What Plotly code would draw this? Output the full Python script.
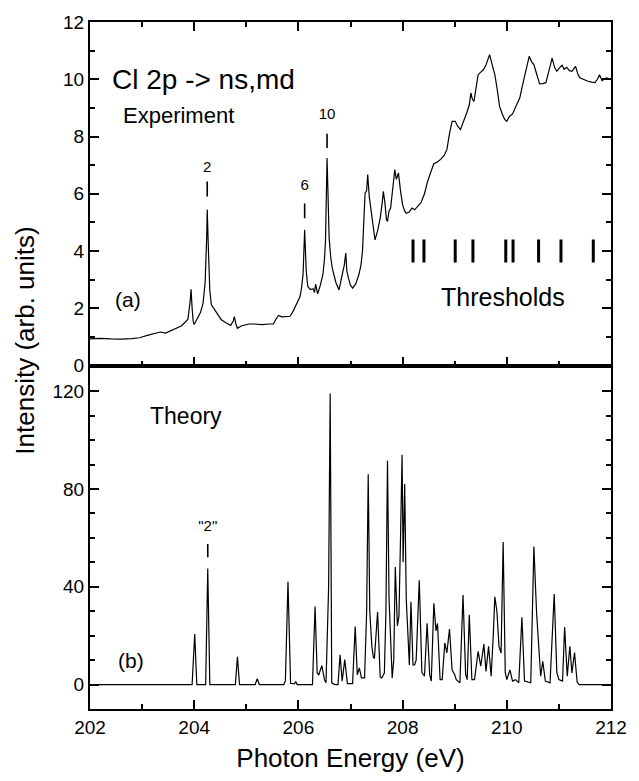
import plotly.graph_objects as go
from plotly.subplots import make_subplots

# ---------------- data ----------------
exp_x = [202.0, 202.2, 202.4, 202.6, 202.8, 202.95, 203.1, 203.25, 203.35, 203.45, 203.55, 203.65,
         203.75, 203.82, 203.88, 203.92, 203.94, 203.96, 203.98, 204.0, 204.05, 204.12, 204.17, 204.21,
         204.24, 204.25, 204.27, 204.3, 204.33, 204.42, 204.52, 204.6, 204.7, 204.75, 204.77, 204.8,
         204.83, 204.9, 204.96, 205.05, 205.14, 205.3, 205.45, 205.52, 205.58, 205.62, 205.68, 205.77,
         205.84, 205.9, 205.96, 206.03, 206.06, 206.09, 206.12, 206.15, 206.18, 206.23, 206.28, 206.31,
         206.33, 206.37, 206.42, 206.47, 206.5, 206.52, 206.55, 206.57, 206.59, 206.62, 206.65, 206.72,
         206.78, 206.84, 206.88, 206.91, 206.93, 206.96, 207.0, 207.04, 207.1, 207.16, 207.2, 207.23,
         207.26, 207.28, 207.31, 207.33, 207.36, 207.39, 207.43, 207.47, 207.52, 207.57, 207.61, 207.63,
         207.66, 207.69, 207.71, 207.74, 207.77, 207.8, 207.83, 207.85, 207.88, 207.92, 207.96, 208.0,
         208.04, 208.07, 208.12, 208.18, 208.23, 208.3, 208.35, 208.42, 208.48, 208.54, 208.6, 208.66,
         208.73, 208.8, 208.85, 208.9, 208.95, 209.01, 209.06, 209.11, 209.17, 209.23, 209.28, 209.31,
         209.34, 209.37, 209.41, 209.45, 209.5, 209.55, 209.6, 209.67, 209.72, 209.77, 209.82, 209.86,
         209.92, 209.96, 210.0, 210.05, 210.11, 210.18, 210.25, 210.29, 210.33, 210.38, 210.43, 210.48,
         210.52, 210.57, 210.63, 210.69, 210.75, 210.81, 210.87, 210.92, 210.96, 211.01, 211.06, 211.1,
         211.15, 211.2, 211.25, 211.32, 211.36, 211.4, 211.48, 211.56, 211.63, 211.69, 211.74, 211.78,
         211.83, 211.87, 211.92, 212.0]
exp_y = [0.93, 0.95, 0.93, 0.92, 0.94, 0.97, 1.05, 1.12, 1.17, 1.13, 1.22, 1.3,
         1.38, 1.5, 1.62, 2.2, 2.66, 2.0, 1.55, 1.43, 1.6, 1.85, 2.18, 2.9,
         4.5, 5.45, 4.2, 2.6, 2.12, 1.85, 1.6, 1.5, 1.4, 1.55, 1.71, 1.45,
         1.3, 1.38, 1.4, 1.45, 1.45, 1.43, 1.45, 1.45, 1.65, 1.75, 1.7, 1.71,
         1.72, 1.9, 2.12, 2.4, 2.7, 3.2, 4.74, 3.3, 2.76, 2.65, 2.68, 2.55,
         2.84, 2.5, 2.8, 3.17, 3.7, 4.34, 7.25, 5.6, 4.45, 3.8, 3.4, 2.9,
         2.64, 3.17, 3.5, 3.93, 3.3, 3.05, 2.8, 2.7, 2.85, 3.17, 3.5, 3.99,
         5.2, 6.03, 6.1, 6.67, 5.9, 5.5, 4.8, 4.39, 4.7, 5.15, 5.7, 6.08,
         5.7, 5.1, 5.03, 5.4, 5.5, 6.1, 6.7, 6.84, 6.5, 6.73, 6.1, 5.61,
         5.4, 5.32, 5.35, 5.5, 5.44, 5.6, 5.68, 6.0, 6.43, 6.75, 7.05, 7.1,
         7.2, 7.35, 7.54, 8.1, 8.53, 8.53, 8.35, 8.24, 8.5, 8.82, 9.1, 9.52,
         9.3, 9.23, 9.7, 10.16, 10.25, 10.33, 10.5, 10.86, 10.5, 10.16, 9.6, 9.06,
         8.75, 8.6, 8.53, 8.7, 8.79, 9.05, 9.35, 9.7, 10.05, 10.45, 10.8, 10.6,
         10.51, 10.2, 9.84, 9.85, 9.88, 10.3, 10.74, 10.4, 10.28, 10.4, 10.49, 10.35,
         10.42, 10.3, 10.28, 10.45, 10.2, 10.05, 9.98, 9.93, 9.9, 9.88, 10.0, 10.16,
         9.95, 10.02, 10.05, 9.98]

th_x = [202.0, 203.96, 204.01, 204.05, 204.22, 204.26, 204.3, 204.79, 204.83, 204.87,
        205.17, 205.21, 205.25, 205.72, 205.75, 205.8, 205.85, 205.92, 205.95, 205.98,
        206.27, 206.32, 206.36, 206.39, 206.45, 206.5, 206.53, 206.58, 206.61, 206.64,
        206.7, 206.76, 206.8, 206.84, 206.89, 206.94, 207.04, 207.09, 207.13, 207.17,
        207.21, 207.27, 207.31, 207.34, 207.37, 207.41, 207.44, 207.46, 207.52, 207.57,
        207.6, 207.65, 207.68, 207.71, 207.74, 207.77, 207.8, 207.83, 207.86, 207.9,
        207.93, 207.96, 207.99, 208.01, 208.04, 208.07, 208.1, 208.13, 208.16, 208.2,
        208.23, 208.26, 208.32, 208.37, 208.42, 208.47, 208.52, 208.55, 208.6, 208.64,
        208.67, 208.72, 208.76, 208.81, 208.85, 208.9, 208.95, 209.0, 209.03, 209.1,
        209.16, 209.21, 209.24, 209.28, 209.33, 209.38, 209.45, 209.5, 209.56, 209.6,
        209.65, 209.7, 209.74, 209.77, 209.81, 209.85, 209.89, 209.93, 209.97, 210.0,
        210.06, 210.11, 210.17, 210.23, 210.29, 210.34, 210.46, 210.52, 210.57, 210.6,
        210.65, 210.69, 210.74, 210.83, 210.91, 210.96, 211.0, 211.07, 211.11, 211.16,
        211.21, 211.25, 211.3, 211.35, 211.39, 212.0]
th_y = [0, 0, 20.7, 0, 0, 47.5, 0, 0, 11.3, 0,
        0, 2.4, 0, 0, 1.5, 42, 0.5, 0.3, 1.1, 0,
        0, 31.9, 4.7, 4, 7.7, 2, 0.7, 40, 119, 0.7,
        0, 0, 12.2, 1.4, 10.2, 0.4, 0.4, 23.7, 4, 6.8,
        2.7, 2.7, 30, 86, 30, 15.6, 11, 10.8, 29.8, 3,
        2.7, 4.7, 30, 91.5, 35, 19, 2.7, 10, 48.1, 24,
        28, 60, 94, 50, 82, 35, 18.3, 8, 33.9, 8,
        8, 10, 42.7, 5, 3.4, 25.1, 4, 1.4, 33.2, 22,
        25, 2, 2, 17, 13, 22.7, 6, 4, 2, 0.7,
        36.6, 4, 2, 28.5, 2, 2, 13.6, 7.5, 16.6, 5.4,
        15.6, 3.4, 20, 35.9, 30, 15.6, 12.9, 58.3, 5, 2,
        6, 1.4, 2, 0.7, 27.5, 1.4, 0.7, 56.5, 30, 19.7,
        3.4, 9.5, 1.4, 0.7, 37, 5, 2, 1.4, 23.5, 3.4,
        15.6, 4.7, 13.1, 1, 0, 0]

# peak markers (experiment): position, bar bottom, bar top, label, label height
exp_mark_x = [204.25, 206.12, 206.55]
exp_mark_lo = [5.9, 5.14, 7.6]
exp_mark_hi = [6.43, 5.66, 8.1]
exp_mark_lbl = ["2", "6", "10"]
exp_mark_lbl_y = [6.88, 6.26, 8.74]

# theory marker
th_mark_x = [204.26]
th_mark_lo = [52.1]
th_mark_hi = [57.5]
th_mark_lbl = ['"2"']
th_mark_lbl_y = [64.2]

# ionisation thresholds
thr_x = [208.2, 208.41, 209.01, 209.35, 209.98, 210.12, 210.61, 211.04, 211.66]
thr_lo = 3.6
thr_hi = 4.4

x_ticks = [202, 204, 206, 208, 210, 212]
top_y_ticks = [0, 2, 4, 6, 8, 10, 12]
bot_y_ticks = [0, 40, 80, 120]

FONT = "Liberation Sans, Arial, Helvetica, sans-serif"

fig = make_subplots(rows=2, cols=1, shared_xaxes=True, vertical_spacing=0)

fig.add_trace(go.Scatter(x=exp_x, y=exp_y, mode="lines",
                         line=dict(color="black", width=1.2), showlegend=False), row=1, col=1)
fig.add_trace(go.Scatter(x=th_x, y=th_y, mode="lines",
                         line=dict(color="black", width=1.2), showlegend=False), row=2, col=1)


def bars(xs, los, his):
    bx, by = [], []
    for x, lo, hi in zip(xs, los, his):
        bx += [x, x, None]
        by += [lo, hi, None]
    return bx, by


bx, by = bars(exp_mark_x, exp_mark_lo, exp_mark_hi)
fig.add_trace(go.Scatter(x=bx, y=by, mode="lines", line=dict(color="black", width=1.6),
                         showlegend=False), row=1, col=1)
bx, by = bars(thr_x, [thr_lo] * len(thr_x), [thr_hi] * len(thr_x))
fig.add_trace(go.Scatter(x=bx, y=by, mode="lines", line=dict(color="black", width=3),
                         showlegend=False), row=1, col=1)
bx, by = bars(th_mark_x, th_mark_lo, th_mark_hi)
fig.add_trace(go.Scatter(x=bx, y=by, mode="lines", line=dict(color="black", width=1.6),
                         showlegend=False), row=2, col=1)

fig.add_trace(go.Scatter(x=exp_mark_x, y=exp_mark_lbl_y, mode="text", text=exp_mark_lbl,
                         textfont=dict(size=15, color="black", family=FONT),
                         showlegend=False), row=1, col=1)
fig.add_trace(go.Scatter(x=th_mark_x, y=th_mark_lbl_y, mode="text", text=th_mark_lbl,
                         textfont=dict(size=15, color="black", family=FONT),
                         showlegend=False), row=2, col=1)

ann = [
    dict(text="Cl 2p -> ns,md", x=202.38, y=10.0, xref="x", yref="y", xanchor="left",
         yanchor="middle", font=dict(size=28, family=FONT, color="black"), showarrow=False),
    dict(text="Experiment", x=202.6, y=8.75, xref="x", yref="y", xanchor="left",
         yanchor="middle", font=dict(size=22, family=FONT, color="black"), showarrow=False),
    dict(text="(a)", x=202.45, y=2.3, xref="x", yref="y", xanchor="left",
         yanchor="middle", font=dict(size=21, family=FONT, color="black"), showarrow=False),
    dict(text="Thresholds", x=209.92, y=2.4, xref="x", yref="y", xanchor="center",
         yanchor="middle", font=dict(size=25, family=FONT, color="black"), showarrow=False),
    dict(text="Theory", x=203.12, y=110, xref="x2", yref="y2", xanchor="left",
         yanchor="middle", font=dict(size=23, family=FONT, color="black"), showarrow=False),
    dict(text="(b)", x=202.5, y=10, xref="x2", yref="y2", xanchor="left",
         yanchor="middle", font=dict(size=21, family=FONT, color="black"), showarrow=False),
    dict(text="Intensity (arb. units)", x=-0.125, y=0.536, xref="paper", yref="paper",
         xanchor="center", yanchor="middle", textangle=-90,
         font=dict(size=26, family=FONT, color="black"), showarrow=False),
]

axis_common = dict(showgrid=False, zeroline=False, showline=True, linecolor="black",
                   linewidth=2, ticks="inside", tickcolor="black", tickwidth=2,
                   ticklen=9, tickfont=dict(size=19, family=FONT, color="black"))

fig.update_xaxes(range=[202, 212], tickvals=x_ticks, mirror="ticks",
                 minor=dict(dtick=1, ticks="inside", ticklen=5, tickwidth=2, tickcolor="black"),
                 **axis_common, row=1, col=1)
fig.update_xaxes(range=[202, 212], tickvals=x_ticks, mirror=True, showticklabels=True,
                 minor=dict(dtick=1, ticks="inside", ticklen=5, tickwidth=2, tickcolor="black"),
                 title=dict(text="Photon Energy (eV)", font=dict(size=26, family=FONT, color="black"),
                            standoff=12),
                 **axis_common, row=2, col=1)
fig.update_yaxes(range=[0, 12], tickvals=top_y_ticks, mirror="ticks",
                 minor=dict(dtick=1, ticks="inside", ticklen=5, tickwidth=2, tickcolor="black"),
                 **axis_common, row=1, col=1)
fig.update_yaxes(range=[-10, 130.5], tickvals=bot_y_ticks, mirror="ticks",
                 minor=dict(tick0=0, dtick=10, ticks="inside", ticklen=5, tickwidth=2, tickcolor="black"),
                 **axis_common, row=2, col=1)

fig.update_layout(width=639, height=781, margin=dict(l=90, r=19, t=21, b=72),
                  plot_bgcolor="white", paper_bgcolor="white", annotations=ann,
                  font=dict(family=FONT, color="black"))

fig.write_html("out.html")
